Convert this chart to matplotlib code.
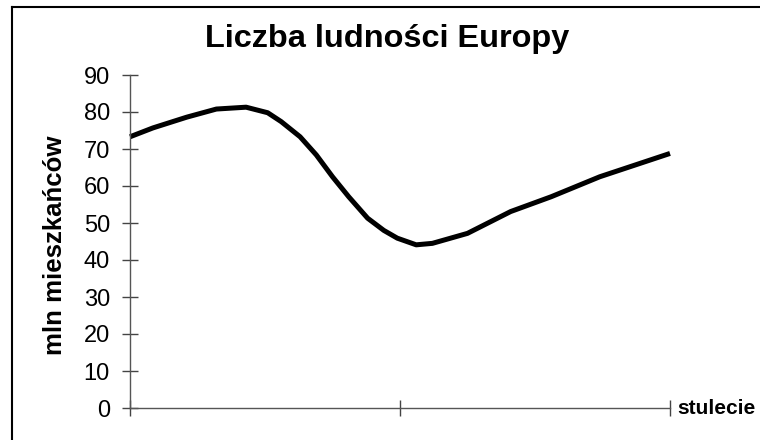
import matplotlib
matplotlib.use('Agg')
import matplotlib.pyplot as plt
from matplotlib.lines import Line2D

plt.rcParams['font.family'] = ['Liberation Sans', 'DejaVu Sans']

# %% data
stulecie = [0, 0.85, 2.1, 3.2, 4.3, 5.1, 5.6, 6.3, 6.9, 7.5, 8.1, 8.8, 9.4,
            9.9, 10.6, 11.2, 12.5, 14.1, 15.6, 17.4, 20]
ludnosc = [73.3, 75.7, 78.6, 80.8, 81.3, 79.8, 77.4, 73.3, 68.4, 62.5, 57.1,
           51.3, 48.0, 45.9, 44.1, 44.5, 47.2, 53.1, 57.1, 62.5, 68.8]
y_ticks = list(range(0, 100, 10))
x_ticks = [0, 10, 20]

title = 'Liczba ludności Europy'
ylabel = 'mln mieszkańców'
xlabel = 'stulecie'

# %% figure
fig = plt.figure(figsize=(7.6, 4.4), dpi=100)
W, H = 760, 440
ax = fig.add_axes([130 / W, 1 - 408 / H, 540 / W, 333 / H])

ax.plot(stulecie, ludnosc, color='black', lw=3.6,
        solid_joinstyle='round', solid_capstyle='butt', clip_on=False)

ax.set_xlim(0, 20)
ax.set_ylim(0, 90)
ax.set_yticks(y_ticks)
ax.set_xticks(x_ticks)
ax.set_xticklabels([])
ax.tick_params(axis='both', direction='inout', length=11, width=1,
               color='#444444')
ax.tick_params(axis='y', labelsize=17, pad=9)

for s in ['top', 'right']:
    ax.spines[s].set_visible(False)
for s in ['left', 'bottom']:
    ax.spines[s].set_color('#555555')
    ax.spines[s].set_linewidth(1)

fig.text(387 / W, 1 - 39 / H, title, ha='center', va='center',
         fontsize=23.4, fontweight='bold')
fig.text(55 / W, 1 - 245 / H, ylabel, ha='center', va='center',
         rotation=90, fontsize=18.6, fontweight='bold')
fig.text(677 / W, 1 - 408 / H, xlabel, ha='left', va='center',
         fontsize=15, fontweight='bold')

# frame (only left and top edges fall inside the picture)
fig.add_artist(Line2D([12 / W, 12 / W], [0, 1 - 7 / H], color='black',
                      lw=1.5, transform=fig.transFigure))
fig.add_artist(Line2D([12 / W, 1], [1 - 7 / H, 1 - 7 / H], color='black',
                      lw=1.5, transform=fig.transFigure))

fig.savefig('out.png', dpi=100)
